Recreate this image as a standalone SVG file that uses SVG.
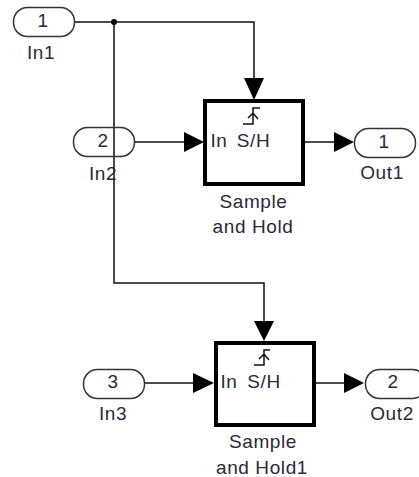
<svg xmlns="http://www.w3.org/2000/svg" width="419" height="477" viewBox="0 0 419 477">
<style>
text{font-family:"Liberation Sans",Arial,sans-serif;font-size:19px;letter-spacing:.6px;fill:#2a2a3a;text-anchor:middle}
.port{fill:#fff;stroke:#333;stroke-width:1.5}
.blk{fill:#fff;stroke:#000;stroke-width:4}
.wire{fill:none;stroke:#111;stroke-width:1.5}
.icon{fill:none;stroke:#111;stroke-width:1.5}
.head{fill:#000}
</style>
<rect width="419" height="477" fill="#fff"/>
<g id="connectors">
<path class="wire" d="M75 22H254V80"/>
<path class="wire" d="M114 22V283H264V321"/>
<path class="wire" d="M134 142H184"/>
<path class="wire" d="M305 142H334"/>
<path class="wire" d="M144 383H193"/>
<path class="wire" d="M314 383H344"/>
<circle class="head" cx="114" cy="22" r="3"/>
<path class="head" d="M244 78H264L254 100Z"/>
<path class="head" d="M184 132L204 142L184 152Z"/>
<path class="head" d="M334 132L354 142L334 152Z"/>
<path class="head" d="M254 321H274L264 341Z"/>
<path class="head" d="M193 373L214 383L193 393Z"/>
<path class="head" d="M344 373L364 383L344 393Z"/>
</g>
<g id="In1"><rect class="port" x="13.500" y="7.500" width="61" height="29" rx="14"/><text x="43" y="27">1</text><text x="41" y="59">In1</text></g>
<g id="In2"><rect class="port" x="73.500" y="127.500" width="61" height="29" rx="14" style="fill:none"/><text x="103" y="147">2</text><text x="103" y="180">In2</text></g>
<g id="In3"><rect class="port" x="83.500" y="369.500" width="61" height="29" rx="14"/><text x="113" y="388">3</text><text x="113" y="420">In3</text></g>
<g id="Out1"><rect class="port" x="354.500" y="128.500" width="61" height="29" rx="14"/><text x="384" y="148">1</text><text x="382" y="179">Out1</text></g>
<g id="Out2"><rect class="port" x="365.500" y="369.500" width="61" height="29" rx="14"/><text x="393" y="388">2</text><text x="392" y="420">Out2</text></g>
<g id="SampleAndHold">
<rect class="blk" x="205" y="101" width="98" height="83"/>
<path class="icon" d="M243 124H253V108H260M248 118L253 113L258 119"/>
<text x="219" y="147">In</text><text x="253.500" y="147">S/H</text>
<text x="253.500" y="208">Sample</text><text x="253" y="233">and Hold</text>
</g>
<g id="SampleAndHold1">
<rect class="blk" x="216" y="343" width="98" height="82"/>
<path class="icon" d="M254 365H264V350H270M259 359L264 354L269 360"/>
<text x="229" y="388">In</text><text x="264" y="388">S/H</text>
<text x="263" y="448">Sample</text><text x="262" y="474">and Hold1</text>
</g>
</svg>
